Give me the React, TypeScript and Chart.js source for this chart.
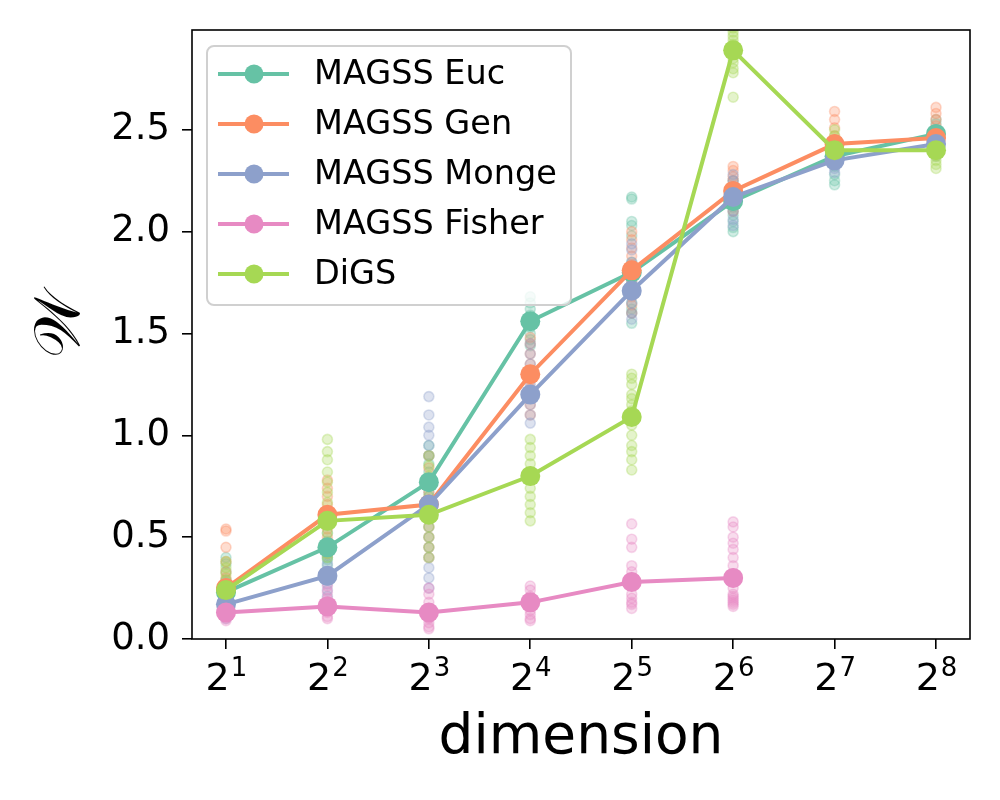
import React, { useEffect, useRef } from "react";
import { Chart, registerables } from "chart.js";

Chart.register(...registerables);

// ---------- data ----------
const exponents = [1, 2, 3, 4, 5, 6, 7, 8];
const tickBase = "2";
const tickExponents = ["1", "2", "3", "4", "5", "6", "7", "8"];
const seriesNames = ["MAGSS Euc", "MAGSS Gen", "MAGSS Monge", "MAGSS Fisher", "DiGS"];
const seriesColors = ["#66c2a5", "#fc8d62", "#8da0cb", "#e78ac3", "#a6d854"];

const eucMean = [0.23, 0.45, 0.77, 1.56, 1.8, 2.15, 2.37, 2.48];
const genMean = [0.25, 0.61, 0.66, 1.3, 1.81, 2.2, 2.43, 2.46];
const mongeMean = [0.17, 0.31, 0.66, 1.2, 1.71, 2.17, 2.35, 2.43];
const fisherMean = [0.13, 0.16, 0.13, 0.18, 0.28, 0.3];
const digsMean = [0.24, 0.58, 0.61, 0.8, 1.09, 2.89, 2.4, 2.4];

const eucRuns = [
  [0.4, 0.37, 0.33, 0.29, 0.26, 0.23, 0.2, 0.17, 0.15, 0.21],
  [0.6, 0.56, 0.52, 0.48, 0.45, 0.42, 0.39, 0.36, 0.33, 0.4],
  [0.95, 0.9, 0.86, 0.82, 0.78, 0.75, 0.72, 0.68, 0.65, 0.62],
  [1.68, 1.65, 1.62, 1.59, 1.56, 1.53, 1.5, 1.47, 1.44, 1.55],
  [2.17, 2.16, 2.05, 2.03, 1.98, 1.85, 1.75, 1.7, 1.65, 1.6, 1.62, 1.55],
  [2.25, 2.2, 2.17, 2.14, 2.12, 2.1, 2.08, 2.05, 2.02, 2.0],
  [2.45, 2.42, 2.39, 2.37, 2.35, 2.32, 2.28, 2.25, 2.23],
  [2.55, 2.53, 2.5, 2.48, 2.46, 2.44, 2.42],
];
const genRuns = [
  [0.54, 0.53, 0.45, 0.38, 0.33, 0.3, 0.27, 0.24, 0.21, 0.19],
  [0.78, 0.74, 0.7, 0.66, 0.62, 0.58, 0.54, 0.5, 0.46, 0.42],
  [0.9, 0.84, 0.78, 0.72, 0.66, 0.6, 0.55, 0.5, 0.45, 0.4],
  [1.48, 1.45, 1.4, 1.35, 1.31, 1.27, 1.23, 1.19, 1.15, 1.1],
  [2.0, 1.96, 1.92, 1.88, 1.84, 1.8, 1.76, 1.72, 1.68, 1.64, 1.6],
  [2.32, 2.3, 2.27, 2.25, 2.22, 2.2, 2.17, 2.14, 2.1],
  [2.59, 2.55, 2.51, 2.47, 2.44, 2.41, 2.38, 2.35],
  [2.61, 2.58, 2.55, 2.52, 2.49, 2.46, 2.43, 2.4, 2.38],
];
const mongeRuns = [
  [0.28, 0.24, 0.21, 0.18, 0.16, 0.14, 0.12, 0.1],
  [0.45, 0.41, 0.37, 0.33, 0.3, 0.27, 0.24, 0.21, 0.18],
  [1.19, 1.1, 1.04, 1.0, 0.95, 0.9, 0.7, 0.55, 0.4, 0.35, 0.3, 0.25, 0.45, 0.5],
  [1.45, 1.4, 1.35, 1.3, 1.25, 1.2, 1.15, 1.1, 1.06],
  [1.94, 1.91, 1.85, 1.8, 1.75, 1.7, 1.65, 1.6, 1.57],
  [2.28, 2.25, 2.22, 2.19, 2.16, 2.13, 2.1, 2.06, 2.03],
  [2.42, 2.39, 2.37, 2.35, 2.33, 2.31, 2.29],
  [2.5, 2.47, 2.45, 2.43, 2.41, 2.39, 2.37],
];
const fisherRuns = [
  [0.19, 0.17, 0.15, 0.13, 0.12, 0.11, 0.1, 0.09],
  [0.26, 0.23, 0.2, 0.17, 0.15, 0.13, 0.11, 0.1],
  [0.25, 0.22, 0.18, 0.15, 0.12, 0.1, 0.08, 0.06, 0.05],
  [0.26, 0.24, 0.21, 0.18, 0.16, 0.14, 0.12, 0.1, 0.09],
  [0.565, 0.49, 0.45, 0.36, 0.33, 0.3, 0.27, 0.22, 0.2, 0.18, 0.17, 0.15],
  [0.575, 0.55, 0.5, 0.47, 0.44, 0.4, 0.36, 0.32, 0.28, 0.25, 0.22, 0.21, 0.2, 0.19, 0.18, 0.17, 0.16],
];
const digsRuns = [
  [0.38, 0.35, 0.32, 0.29, 0.26, 0.24, 0.22, 0.2, 0.18],
  [0.98, 0.92, 0.88, 0.82, 0.77, 0.72, 0.67, 0.62, 0.57, 0.52, 0.47, 0.42, 0.4],
  [0.9, 0.85, 0.8, 0.75, 0.7, 0.65, 0.6, 0.55, 0.5, 0.45, 0.4],
  [0.98, 0.94, 0.9, 0.86, 0.82, 0.78, 0.74, 0.7, 0.66, 0.62, 0.58],
  [1.3, 1.28, 1.25, 1.2, 1.15, 1.1, 1.05, 1.0, 0.95, 0.92, 0.88, 0.83, 1.12, 1.18],
  [3.0, 2.98, 2.96, 2.94, 2.92, 2.9, 2.88, 2.85, 2.83, 2.8, 2.78, 2.66],
  [2.5, 2.47, 2.44, 2.41, 2.39, 2.37, 2.35],
  [2.46, 2.43, 2.41, 2.39, 2.37, 2.35, 2.33, 2.31],
];

const yTicks = [0, 0.5, 1.0, 1.5, 2.0, 2.5];
const xTitle = "dimension";
const yTitle = " 𝒲";

const allMeans = [eucMean, genMean, mongeMean, fisherMean, digsMean];
const allRuns = [eucRuns, genRuns, mongeRuns, fisherRuns, digsRuns];

// ---------- helpers ----------
const FONT = "'DejaVu Sans', 'Noto Sans', sans-serif";

function rgba(hex: string, a: number) {
  const n = parseInt(hex.slice(1), 16);
  return `rgba(${(n >> 16) & 255},${(n >> 8) & 255},${n & 255},${a})`;
}

const frameAndLegend = {
  id: "frameAndLegend",
  afterDatasetsDraw(chart: any) {
    const { ctx, chartArea } = chart;
    ctx.save();
    const bx = 207, by = 46, bw = 364, bh = 259, r = 7;
    ctx.beginPath();
    ctx.moveTo(bx + r, by);
    ctx.arcTo(bx + bw, by, bx + bw, by + bh, r);
    ctx.arcTo(bx + bw, by + bh, bx, by + bh, r);
    ctx.arcTo(bx, by + bh, bx, by, r);
    ctx.arcTo(bx, by, bx + bw, by, r);
    ctx.closePath();
    ctx.fillStyle = "rgba(255,255,255,0.8)";
    ctx.fill();
    ctx.lineWidth = 2;
    ctx.strokeStyle = "#d0d0d0";
    ctx.stroke();
    seriesNames.forEach((name, i) => {
      const yy = 74 + i * 50;
      ctx.strokeStyle = seriesColors[i];
      ctx.lineWidth = 4;
      ctx.beginPath();
      ctx.moveTo(218, yy);
      ctx.lineTo(289, yy);
      ctx.stroke();
      ctx.fillStyle = seriesColors[i];
      ctx.beginPath();
      ctx.arc(254, yy, 9.5, 0, Math.PI * 2);
      ctx.fill();
      ctx.fillStyle = "#000";
      ctx.font = `33.5px ${FONT}`;
      ctx.textBaseline = "middle";
      ctx.textAlign = "left";
      ctx.fillText(name, 314, yy + 1);
    });
    ctx.strokeStyle = "#000";
    ctx.lineWidth = 1.6;
    ctx.strokeRect(chartArea.left, chartArea.top, chartArea.right - chartArea.left, chartArea.bottom - chartArea.top);
    ctx.restore();
  },
  afterDraw(chart: any) {
    const { ctx } = chart;
    const xs = chart.scales.x;
    ctx.save();
    ctx.fillStyle = "#000";
    ctx.textBaseline = "alphabetic";
    ctx.textAlign = "left";
    exponents.forEach((e, i) => {
      const px = xs.getPixelForValue(e);
      ctx.font = `38px ${FONT}`;
      const wb = ctx.measureText(tickBase).width;
      ctx.font = `26px ${FONT}`;
      const we = ctx.measureText(tickExponents[i]).width;
      const start = px - (wb + we) / 2;
      ctx.font = `38px ${FONT}`;
      ctx.fillText(tickBase, start, 690);
      ctx.font = `26px ${FONT}`;
      ctx.fillText(tickExponents[i], start + wb + 1, 676);
    });
    ctx.restore();
  },
};

export default function App() {
  const ref = useRef<HTMLCanvasElement>(null);
  useEffect(() => {
    if (!ref.current) return;
    const datasets: any[] = [];
    allRuns.forEach((runs, s) => {
      const pts: { x: number; y: number }[] = [];
      runs.forEach((vals, c) => vals.forEach((v) => pts.push({ x: exponents[c], y: v })));
      datasets.push({
        type: "scatter",
        label: seriesNames[s] + " runs",
        data: pts,
        backgroundColor: rgba(seriesColors[s], 0.3),
        borderColor: rgba(seriesColors[s], 0.32),
        borderWidth: 1.6,
        pointRadius: 5,
        showLine: false,
        order: 100 - s,
        clip: 0,
      });
    });
    allMeans.forEach((means, s) => {
      datasets.push({
        type: "line",
        label: seriesNames[s],
        data: means.map((v, c) => ({ x: exponents[c], y: v })),
        borderColor: seriesColors[s],
        backgroundColor: seriesColors[s],
        pointBackgroundColor: seriesColors[s],
        pointBorderWidth: 0,
        pointRadius: 10,
        borderWidth: 4,
        tension: 0,
        fill: false,
        order: 10 - s,
        clip: 0,
      });
    });

    const chart = new Chart(ref.current, {
      type: "scatter",
      data: { datasets },
      plugins: [frameAndLegend],
      options: {
        animation: false,
        responsive: false,
        devicePixelRatio: 1,
        layout: { padding: { top: 30, right: 30, left: 0, bottom: 0 } },
        plugins: { legend: { display: false }, tooltip: { enabled: false } },
        scales: {
          x: {
            type: "linear",
            min: 0.665,
            max: 8.335,
            afterFit: (s: any) => {
              s.height = 161;
              s.paddingLeft = 0;
              s.paddingRight = 0;
            },
            afterBuildTicks: (s: any) => {
              s.ticks = exponents.map((v) => ({ value: v }));
            },
            border: { display: false },
            grid: { display: true, drawOnChartArea: false, drawTicks: true, tickLength: 10, color: "#000", lineWidth: 1.6 },
            ticks: { display: false },
            title: {
              display: true,
              text: xTitle,
              color: "#000",
              font: { family: FONT, size: 55 },
              padding: { top: 0, bottom: 28 },
            },
          },
          y: {
            type: "linear",
            min: 0,
            max: 2.99,
            afterFit: (s: any) => {
              s.width = 192;
              s.paddingTop = 0;
              s.paddingBottom = 0;
            },
            afterBuildTicks: (s: any) => {
              s.ticks = yTicks.map((v) => ({ value: v }));
            },
            border: { display: false },
            grid: { display: true, drawOnChartArea: false, drawTicks: true, tickLength: 10, color: "#000", lineWidth: 1.6 },
            ticks: {
              padding: 12,
              color: "#000",
              font: { family: FONT, size: 37 },
              callback: (v: any) => Number(v).toFixed(1),
            },
            title: {
              display: true,
              text: yTitle,
              color: "#000",
              font: { family: "'DejaVu Serif', 'DejaVu Sans', 'Noto Sans', serif", size: 64 },
              padding: { top: 24, bottom: 0 },
            },
          },
        },
      },
    } as any);
    return () => chart.destroy();
  }, []);
  return (
    <div style={{ position: "fixed", left: 0, top: 0, width: 1000, height: 800, background: "#fff" }}>
      <canvas ref={ref} width={1000} height={800} style={{ width: 1000, height: 800 }} />
    </div>
  );
}
